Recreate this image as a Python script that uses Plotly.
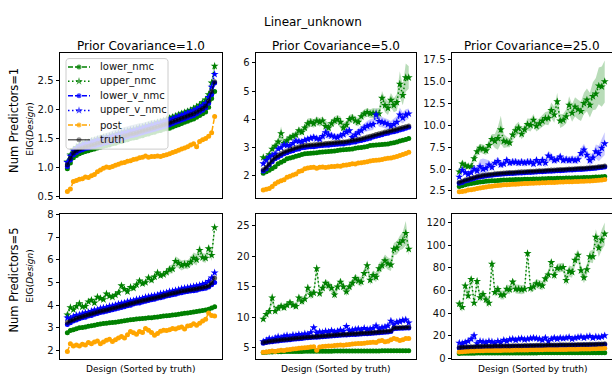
import numpy as np
import plotly.graph_objects as go

W, H = 612, 379
FONT = "DejaVu Sans"

# ---------------- Num Predictors=1, Prior Covariance=1.0 ----------------
lower_nmc_p1c1 = [0.97,1.07,1.16,1.20,1.23,1.25,1.27,1.28,1.30,1.31,
                  1.33,1.34,1.36,1.37,1.38,1.40,1.41,1.43,1.44,1.46,
                  1.47,1.49,1.50,1.51,1.53,1.54,1.56,1.57,1.59,1.60,
                  1.62,1.63,1.65,1.66,1.67,1.69,1.71,1.73,1.75,1.77,
                  1.79,1.81,1.83,1.86,1.89,1.92,1.95,2.03,2.18,2.30]
upper_nmc_p1c1 = [1.09,1.21,1.30,1.34,1.38,1.40,1.42,1.43,1.45,1.46,
                  1.48,1.49,1.51,1.52,1.53,1.55,1.56,1.58,1.59,1.61,
                  1.62,1.64,1.65,1.66,1.68,1.69,1.71,1.72,1.74,1.75,
                  1.77,1.78,1.80,1.82,1.84,1.86,1.88,1.90,1.92,1.94,
                  1.96,1.98,2.01,2.04,2.07,2.11,2.16,2.25,2.45,2.74]
lower_v_nmc_p1c1 = [1.01,1.12,1.21,1.25,1.28,1.30,1.32,1.33,1.35,1.36,
                    1.38,1.39,1.41,1.42,1.43,1.45,1.46,1.48,1.49,1.51,
                    1.52,1.54,1.55,1.56,1.58,1.59,1.61,1.62,1.64,1.65,
                    1.67,1.68,1.70,1.71,1.73,1.75,1.77,1.79,1.81,1.83,
                    1.85,1.87,1.89,1.92,1.95,1.98,2.02,2.10,2.25,2.45]
upper_v_nmc_p1c1 = [1.08,1.19,1.28,1.32,1.36,1.38,1.40,1.41,1.43,1.44,
                    1.46,1.47,1.49,1.50,1.51,1.53,1.54,1.56,1.57,1.59,
                    1.60,1.62,1.63,1.64,1.66,1.67,1.69,1.70,1.72,1.73,
                    1.75,1.76,1.78,1.79,1.81,1.83,1.85,1.87,1.89,1.91,
                    1.93,1.95,1.97,2.00,2.03,2.06,2.10,2.20,2.38,2.60]
post_p1c1 = [0.58,0.62,0.75,0.77,0.79,0.80,0.83,0.82,0.85,0.87,
             0.92,0.95,0.98,1.00,0.99,1.01,1.03,1.05,1.07,1.08,
             1.10,1.11,1.13,1.14,1.16,1.17,1.19,1.17,1.18,1.18,
             1.19,1.18,1.20,1.21,1.23,1.25,1.27,1.29,1.31,1.33,
             1.35,1.38,1.40,1.35,1.44,1.47,1.49,1.53,1.59,1.87]
truth_p1c1 = [1.04,1.15,1.24,1.28,1.31,1.33,1.35,1.36,1.38,1.39,
              1.41,1.42,1.44,1.45,1.46,1.48,1.49,1.51,1.52,1.54,
              1.55,1.57,1.58,1.59,1.61,1.62,1.64,1.65,1.67,1.68,
              1.70,1.71,1.73,1.74,1.76,1.78,1.80,1.82,1.84,1.86,
              1.88,1.90,1.92,1.95,1.98,2.01,2.05,2.14,2.30,2.47]
upper_nmc_sd_p1c1 = [0.03,0.03,0.04,0.04,0.04,0.05,0.05,0.05,0.06,0.06,
                     0.06,0.07,0.07,0.07,0.07,0.08,0.08,0.08,0.08,0.08,
                     0.08,0.08,0.08,0.08,0.08,0.07,0.07,0.07,0.07,0.06,
                     0.06,0.06,0.05,0.05,0.05,0.05,0.04,0.04,0.04,0.04,
                     0.04,0.04,0.04,0.04,0.05,0.05,0.05,0.06,0.07,0.09]
upper_v_nmc_sd_p1c1 = [0.03,0.03,0.04,0.04,0.05,0.05,0.06,0.06,0.07,0.07,
                       0.08,0.08,0.08,0.09,0.09,0.09,0.10,0.10,0.10,0.10,
                       0.10,0.10,0.10,0.10,0.09,0.09,0.09,0.08,0.08,0.08,
                       0.07,0.07,0.06,0.06,0.05,0.05,0.05,0.04,0.04,0.04,
                       0.04,0.04,0.04,0.04,0.04,0.05,0.05,0.05,0.06,0.08]
truth_sd_p1c1 = 0.02

# ---------------- Num Predictors=1, Prior Covariance=5.0 ----------------
lower_nmc_p1c5 = [2.09,2.14,2.20,2.26,2.32,2.43,2.48,2.53,2.60,2.63,
                  2.66,2.69,2.72,2.75,2.78,2.79,2.80,2.81,2.82,2.83,
                  2.84,2.85,2.86,2.87,2.88,2.90,2.91,2.92,2.93,2.94,
                  2.95,2.98,2.99,3.00,3.02,3.04,3.07,3.08,3.09,3.10,
                  3.11,3.12,3.13,3.15,3.17,3.20,3.23,3.26,3.29,3.32]
upper_nmc_p1c5 = [2.65,2.62,2.75,2.95,3.05,3.20,3.50,3.15,3.25,3.35,
                  3.40,3.45,3.60,3.55,3.70,3.85,3.90,3.85,3.95,3.90,
                  3.95,3.75,3.70,3.85,3.95,4.00,3.90,3.70,3.80,4.00,
                  4.05,3.95,3.90,4.10,4.20,4.25,4.20,4.22,4.20,4.20,
                  4.75,4.50,4.40,4.68,4.50,4.60,5.25,4.85,5.48,5.48]
lower_v_nmc_p1c5 = [2.17,2.25,2.38,2.50,2.60,2.66,2.72,2.78,2.82,2.86,
                    2.89,2.93,2.95,2.99,3.00,3.02,3.03,3.03,3.05,3.06,
                    3.07,3.08,3.08,3.10,3.11,3.12,3.13,3.13,3.15,3.16,
                    3.19,3.20,3.23,3.25,3.28,3.30,3.33,3.37,3.40,3.43,
                    3.45,3.49,3.51,3.54,3.56,3.59,3.62,3.65,3.68,3.72]
upper_v_nmc_p1c5 = [2.43,2.55,2.66,2.72,2.78,2.95,3.00,3.10,3.08,3.07,
                    3.15,3.24,3.22,3.20,3.26,3.30,3.33,3.36,3.32,3.30,
                    3.40,3.53,3.45,3.42,3.38,3.36,3.42,3.47,3.55,3.60,
                    3.36,3.45,3.53,3.60,3.70,3.76,3.80,3.82,4.16,3.93,
                    3.90,3.87,3.82,3.76,3.82,3.90,4.16,4.05,4.16,4.20]
post_p1c5 = [1.50,1.52,1.55,1.62,1.72,1.78,1.82,1.86,1.95,1.98,
             2.03,2.06,2.15,2.18,2.25,2.28,2.29,2.30,2.27,2.30,
             2.31,2.29,2.31,2.33,2.33,2.35,2.34,2.37,2.38,2.40,
             2.43,2.42,2.45,2.46,2.48,2.50,2.52,2.54,2.55,2.56,
             2.58,2.60,2.62,2.63,2.66,2.68,2.72,2.75,2.79,2.83]
truth_p1c5 = [2.21,2.30,2.42,2.55,2.65,2.72,2.78,2.84,2.88,2.92,
              2.96,2.99,3.02,3.05,3.07,3.08,3.09,3.10,3.11,3.12,
              3.13,3.14,3.15,3.16,3.17,3.18,3.19,3.20,3.21,3.23,
              3.25,3.27,3.29,3.31,3.34,3.37,3.40,3.43,3.46,3.49,
              3.52,3.55,3.57,3.60,3.62,3.65,3.68,3.71,3.74,3.76]
upper_nmc_sd_p1c5 = [0.08,0.08,0.10,0.12,0.12,0.15,0.25,0.15,0.12,0.12,
                     0.12,0.12,0.15,0.12,0.15,0.18,0.15,0.15,0.15,0.15,
                     0.15,0.20,0.18,0.15,0.15,0.15,0.20,0.18,0.15,0.15,
                     0.15,0.15,0.15,0.15,0.15,0.15,0.15,0.18,0.18,0.20,
                     0.25,0.25,0.25,0.25,0.25,0.30,0.45,0.35,0.50,0.40]
upper_v_nmc_sd_p1c5 = [0.05,0.05,0.06,0.06,0.06,0.07,0.08,0.08,0.08,0.08,
                       0.08,0.09,0.10,0.10,0.10,0.10,0.10,0.12,0.10,0.12,
                       0.15,0.18,0.15,0.12,0.12,0.12,0.12,0.12,0.15,0.15,
                       0.15,0.15,0.15,0.15,0.15,0.18,0.20,0.20,0.25,0.20,
                       0.18,0.18,0.18,0.18,0.20,0.22,0.25,0.20,0.20,0.18]
truth_sd_p1c5 = 0.04

# ---------------- Num Predictors=1, Prior Covariance=25.0 ----------------
lower_nmc_p1c25 = [3.00,3.10,3.20,3.30,3.35,3.42,3.48,3.52,3.56,3.60,
                   3.63,3.66,3.68,3.70,3.72,3.74,3.75,3.77,3.78,3.80,
                   3.81,3.82,3.83,3.84,3.85,3.86,3.87,3.88,3.89,3.90,
                   3.91,3.92,3.93,3.94,3.95,3.96,3.97,3.98,3.99,4.00,
                   4.01,4.02,4.03,4.04,4.05,4.06,4.08,4.10,4.12,4.15]
upper_nmc_p1c25 = [4.7,5.6,5.4,5.3,5.3,6.2,7.0,7.4,7.3,7.1,
                   7.7,8.4,8.2,8.5,9.5,8.2,8.1,8.0,8.9,9.4,
                   9.7,9.0,9.5,10.1,10.0,10.6,9.9,10.2,10.5,10.8,
                   10.8,11.7,11.2,12.7,10.5,10.6,11.0,12.3,11.4,12.1,
                   11.8,11.6,12.5,12.9,12.3,13.3,13.6,14.5,14.4,15.0]
lower_v_nmc_p1c25 = [3.38,3.48,3.63,3.73,3.83,3.93,4.03,4.10,4.16,4.21,
                     4.26,4.30,4.34,4.38,4.41,4.44,4.46,4.48,4.50,4.52,
                     4.54,4.56,4.58,4.60,4.62,4.64,4.66,4.68,4.70,4.72,
                     4.74,4.76,4.78,4.80,4.82,4.84,4.86,4.88,4.90,4.92,
                     4.94,4.96,4.98,5.01,5.04,5.07,5.10,5.14,5.18,5.23]
upper_v_nmc_p1c25 = [4.1,4.9,4.6,4.4,4.6,5.0,4.8,5.3,5.0,5.1,
                     5.5,5.2,5.7,5.9,5.5,5.6,6.0,5.7,5.8,5.8,
                     5.7,5.8,5.7,5.8,5.8,5.6,6.0,5.7,6.0,5.7,
                     6.5,6.3,6.0,6.1,6.4,6.0,6.1,6.0,6.1,6.0,
                     6.1,6.8,7.2,6.6,6.0,6.3,7.0,6.8,7.4,7.9]
post_p1c25 = [2.40,2.45,2.50,2.60,2.65,2.70,2.78,2.85,2.90,2.95,
              3.00,3.05,3.10,3.13,3.16,3.20,3.22,3.24,3.26,3.28,
              3.30,3.32,3.34,3.35,3.37,3.38,3.40,3.41,3.43,3.44,
              3.46,3.47,3.48,3.50,3.51,3.52,3.54,3.55,3.56,3.58,
              3.59,3.60,3.62,3.63,3.65,3.67,3.69,3.72,3.75,3.80]
truth_p1c25 = [3.50,3.60,3.75,3.85,3.95,4.05,4.15,4.22,4.28,4.33,
               4.38,4.42,4.46,4.50,4.53,4.56,4.58,4.60,4.62,4.64,
               4.66,4.68,4.70,4.72,4.74,4.76,4.78,4.80,4.82,4.84,
               4.86,4.88,4.90,4.92,4.94,4.96,4.98,5.00,5.02,5.04,
               5.06,5.08,5.10,5.13,5.16,5.19,5.22,5.26,5.30,5.35]
upper_nmc_sd_p1c25 = [0.3,0.4,0.4,0.3,0.3,0.4,0.5,0.5,0.5,0.5,
                      0.6,0.6,0.8,1.3,1.6,0.8,0.6,0.5,0.6,0.7,
                      0.7,0.6,0.6,0.7,0.7,0.7,0.6,0.6,0.7,0.7,
                      0.8,0.9,0.9,1.0,0.8,0.7,0.8,1.0,1.0,1.1,
                      1.1,1.1,1.2,1.3,1.4,1.6,1.8,2.1,2.3,2.4]
upper_v_nmc_sd_p1c25 = [0.2,0.3,0.3,0.3,0.3,0.4,0.5,0.8,1.2,1.0,
                        0.5,0.4,0.4,0.5,0.4,0.4,0.4,0.4,0.4,0.4,
                        0.4,0.4,0.4,0.4,0.4,0.4,0.4,0.4,0.5,0.5,
                        0.6,0.5,0.4,0.4,0.4,0.4,0.4,0.4,0.4,0.4,
                        0.5,0.6,0.7,0.6,0.6,0.6,0.8,0.9,1.1,1.3]
truth_sd_p1c25 = 0.08

# ---------------- Num Predictors=5, Prior Covariance=1.0 ----------------
lower_nmc_p5c1 = [2.79,2.88,2.92,2.96,3.00,3.02,3.04,3.07,3.09,3.12,
                  3.15,3.17,3.19,3.20,3.22,3.24,3.25,3.27,3.29,3.31,
                  3.33,3.36,3.37,3.39,3.40,3.41,3.42,3.44,3.45,3.47,
                  3.48,3.50,3.52,3.53,3.55,3.57,3.58,3.60,3.62,3.64,
                  3.66,3.68,3.70,3.72,3.74,3.76,3.79,3.82,3.87,3.93]
upper_nmc_p5c1 = [3.58,3.90,3.80,3.95,4.07,3.93,3.95,4.15,4.22,4.10,
                  4.36,4.30,4.25,4.50,4.40,4.36,4.45,4.55,4.86,4.70,
                  4.60,4.79,4.75,4.90,5.07,4.95,5.00,5.21,5.10,5.25,
                  5.43,5.30,5.35,5.45,5.57,5.60,5.93,5.85,5.75,5.80,
                  5.78,5.90,6.07,6.00,6.42,6.10,6.07,6.49,6.20,7.42]
lower_v_nmc_p5c1 = [3.15,3.22,3.30,3.35,3.40,3.45,3.47,3.52,3.55,3.60,
                    3.63,3.68,3.70,3.73,3.77,3.80,3.83,3.86,3.90,3.93,
                    3.97,4.00,4.05,4.08,4.10,4.14,4.17,4.20,4.24,4.26,
                    4.30,4.33,4.36,4.40,4.42,4.46,4.48,4.52,4.55,4.58,
                    4.60,4.62,4.64,4.66,4.70,4.72,4.75,4.80,4.90,5.00]
upper_v_nmc_p5c1 = [3.44,3.42,3.50,3.55,3.58,3.62,3.66,3.68,3.73,3.78,
                    3.80,3.85,3.88,3.90,3.95,3.97,4.00,4.05,4.08,4.10,
                    4.15,4.18,4.20,4.25,4.27,4.30,4.35,4.37,4.40,4.42,
                    4.45,4.50,4.52,4.55,4.60,4.62,4.65,4.68,4.72,4.75,
                    4.77,4.80,4.82,4.85,4.88,4.92,4.96,5.05,5.20,5.43]
post_p5c1 = [1.96,2.30,2.20,2.25,2.20,2.28,2.25,2.35,2.30,2.38,
             2.42,2.30,2.38,2.45,2.50,2.40,2.48,2.55,2.62,2.55,
             2.70,2.84,2.78,2.72,2.84,2.80,2.97,2.90,2.80,2.68,
             2.75,2.85,2.90,2.88,2.92,2.97,2.95,3.00,3.04,2.95,
             3.08,3.10,3.18,3.12,3.20,3.30,3.38,3.66,3.55,3.52]
truth_p5c1 = [3.24,3.30,3.36,3.42,3.46,3.50,3.54,3.58,3.62,3.66,
              3.70,3.73,3.76,3.79,3.82,3.86,3.89,3.93,3.96,4.00,
              4.03,4.07,4.10,4.14,4.17,4.20,4.23,4.26,4.29,4.32,
              4.35,4.38,4.42,4.45,4.49,4.52,4.55,4.58,4.62,4.64,
              4.66,4.68,4.70,4.72,4.75,4.78,4.81,4.85,4.98,5.20]
upper_nmc_sd_p5c1 = [0.08,0.08,0.08,0.08,0.08,0.08,0.08,0.08,0.10,0.10,
                     0.10,0.10,0.10,0.10,0.10,0.10,0.10,0.10,0.12,0.12,
                     0.12,0.12,0.12,0.12,0.12,0.12,0.12,0.12,0.12,0.12,
                     0.12,0.12,0.12,0.15,0.18,0.20,0.22,0.22,0.22,0.20,
                     0.20,0.22,0.25,0.25,0.25,0.20,0.20,0.22,0.25,0.30]
upper_v_nmc_sd_p5c1 = [0.06,0.06,0.06,0.06,0.06,0.06,0.06,0.06,0.06,0.06,
                       0.06,0.06,0.06,0.06,0.06,0.06,0.06,0.06,0.06,0.06,
                       0.06,0.06,0.06,0.06,0.06,0.06,0.06,0.06,0.06,0.06,
                       0.06,0.06,0.06,0.06,0.06,0.06,0.06,0.06,0.06,0.06,
                       0.06,0.07,0.07,0.07,0.08,0.08,0.09,0.10,0.10,0.12]
truth_sd_p5c1 = 0.07

# ---------------- Num Predictors=5, Prior Covariance=5.0 ----------------
lower_nmc_p5c5 = [4.20,4.25,4.28,4.30,4.32,4.33,4.35,4.36,4.37,4.38,
                  4.38,4.39,4.40,4.40,4.41,4.41,4.42,4.42,4.43,4.43,
                  4.43,4.44,4.44,4.44,4.45,4.45,4.45,4.45,4.46,4.46,
                  4.46,4.46,4.47,4.47,4.47,4.47,4.48,4.48,4.48,4.48,
                  4.49,4.49,4.49,4.50,4.50,4.50,4.50,4.50,4.51,4.51]
upper_nmc_p5c5 = [9.7,10.5,11.0,13.2,11.0,11.5,11.8,11.6,12.0,12.4,
                  12.0,11.8,13.2,12.6,13.0,14.8,13.7,14.0,18.0,13.9,
                  14.8,15.6,15.2,14.8,13.7,15.0,15.8,15.0,14.2,15.0,
                  15.6,16.4,16.0,15.8,17.2,18.5,16.1,16.9,16.6,18.0,
                  18.5,19.3,18.8,18.6,21.2,21.4,22.2,22.6,23.8,21.2]
lower_v_nmc_p5c5 = [5.75,5.85,5.92,6.00,6.06,6.12,6.18,6.22,6.28,6.33,
                    6.38,6.43,6.48,6.53,6.58,6.62,6.66,6.70,6.74,6.78,
                    6.82,6.86,6.90,6.94,6.98,7.01,7.04,7.07,7.10,7.13,
                    7.16,7.19,7.22,7.25,7.28,7.31,7.34,7.38,7.42,7.46,
                    7.50,7.54,7.58,7.66,8.12,8.16,8.18,8.20,8.22,8.24]
upper_v_nmc_p5c5 = [6.0,6.2,6.5,6.4,6.6,6.8,6.6,6.9,7.0,6.8,
                    7.1,7.0,7.2,7.1,7.3,7.2,7.5,8.3,7.4,7.6,
                    7.5,7.7,7.6,7.8,7.6,7.7,7.9,7.7,8.5,7.8,
                    7.9,8.0,8.1,7.9,8.2,8.0,8.1,8.2,8.6,8.1,
                    8.3,8.4,8.6,9.4,8.8,9.2,9.3,9.5,9.6,9.1]
post_p5c5 = [4.25,4.30,4.40,4.47,4.40,4.50,4.60,4.55,4.65,4.70,
             4.80,4.85,4.90,4.95,5.00,5.05,5.10,5.15,4.60,5.10,
             5.20,5.25,5.30,5.30,5.35,5.40,5.45,5.40,5.50,5.55,
             5.60,5.65,5.70,5.70,5.75,5.80,5.85,5.90,5.85,6.10,
             6.20,6.00,6.05,6.30,6.50,6.40,6.20,6.30,6.50,6.50]
truth_p5c5 = [5.85,5.95,6.05,6.12,6.18,6.24,6.30,6.35,6.40,6.45,
              6.50,6.55,6.60,6.65,6.70,6.74,6.78,6.82,6.86,6.90,
              6.94,6.98,7.02,7.06,7.10,7.13,7.16,7.19,7.22,7.25,
              7.28,7.31,7.34,7.37,7.40,7.43,7.46,7.50,7.54,7.58,
              7.62,7.66,7.70,7.78,8.25,8.28,8.30,8.32,8.34,8.36]
upper_nmc_sd_p5c5 = [0.5,0.5,0.6,0.9,0.6,0.5,0.5,0.5,0.5,0.5,
                     0.5,0.5,0.6,0.6,0.6,0.8,0.7,0.7,0.9,0.7,
                     0.7,0.7,0.7,0.7,0.7,0.7,0.7,0.7,0.7,0.7,
                     0.7,0.7,0.7,0.8,0.8,0.9,0.8,0.8,0.8,0.9,
                     0.9,1.0,1.0,1.0,1.0,1.1,1.2,1.4,2.0,1.0]
upper_v_nmc_sd_p5c5 = [0.2,0.2,0.2,0.2,0.2,0.2,0.2,0.2,0.2,0.2,
                       0.25,0.25,0.25,0.25,0.3,0.3,0.3,0.5,0.3,0.3,
                       0.3,0.3,0.3,0.3,0.3,0.3,0.3,0.3,0.5,0.3,
                       0.3,0.3,0.3,0.3,0.3,0.3,0.3,0.3,0.5,0.35,
                       0.35,0.4,0.4,0.6,0.4,0.4,0.4,0.4,0.4,0.4]
truth_sd_p5c5 = 0.1

# ---------------- Num Predictors=5, Prior Covariance=25.0 ----------------
lower_nmc_p5c25 = [4.2,4.3,4.3,4.4,4.4,4.4,4.5,4.5,4.5,4.5,
                   4.5,4.6,4.6,4.6,4.6,4.6,4.6,4.6,4.7,4.7,
                   4.7,4.7,4.7,4.7,4.7,4.7,4.7,4.8,4.8,4.8,
                   4.8,4.8,4.8,4.8,4.8,4.8,4.8,4.8,4.8,4.8,
                   4.9,4.9,4.9,4.9,4.9,4.9,4.9,4.9,4.9,4.9]
upper_nmc_p5c25 = [48.1,45.2,64.2,55.3,69.9,48.9,68.2,53.8,56.7,51.8,
                   48.9,83.5,58.4,61.0,56.1,56.1,61.3,60.7,67.6,61.3,
                   61.3,60.7,61.3,92.9,61.9,63.3,66.2,65.3,64.2,70.5,
                   74.0,84.9,73.4,79.7,80.0,80.6,69.1,77.2,76.3,86.9,
                   91.5,77.7,71.4,78.6,90.1,90.1,107.3,97.8,105.0,110.2]
lower_v_nmc_p5c25 = [9.0,9.2,9.3,9.4,9.5,9.6,9.7,9.8,9.9,9.9,
                     10.0,10.0,10.1,10.1,10.2,10.2,10.3,10.3,10.4,10.4,
                     10.5,10.5,10.6,10.6,10.7,10.7,10.8,10.8,10.9,10.9,
                     11.0,11.0,11.1,11.1,11.2,11.2,11.3,11.3,11.4,11.4,
                     11.5,11.5,11.6,11.6,11.7,11.7,11.8,11.9,12.0,12.2]
upper_v_nmc_p5c25 = [13.5,13.0,14.0,15.0,17.0,20.0,13.0,15.0,14.5,14.0,
                     15.0,14.5,13.5,15.0,14.0,16.0,15.0,16.5,17.0,16.0,
                     17.0,17.5,16.5,17.0,17.5,18.0,17.5,17.0,16.0,18.0,
                     15.0,17.0,18.0,17.0,18.0,17.5,18.0,18.5,17.0,18.0,
                     18.5,19.0,18.0,19.0,19.5,18.0,19.0,18.5,19.0,20.0]
post_p5c25 = [5.5,5.8,6.0,6.2,6.3,6.4,6.5,6.6,6.6,6.7,
              6.7,6.8,6.8,6.9,6.9,7.0,7.0,7.1,7.1,7.2,
              7.2,7.2,7.3,7.3,7.4,7.4,7.4,7.5,7.5,7.6,
              7.6,7.6,7.7,7.7,7.8,7.8,7.8,7.9,7.9,8.0,
              8.0,8.1,8.1,8.2,8.2,8.3,8.4,8.5,8.6,8.8]
truth_p5c25 = [9.5,9.7,9.9,10.0,10.1,10.2,10.3,10.4,10.5,10.5,
               10.6,10.6,10.7,10.7,10.8,10.8,10.9,10.9,11.0,11.0,
               11.1,11.1,11.2,11.2,11.3,11.3,11.4,11.4,11.5,11.5,
               11.6,11.6,11.7,11.7,11.8,11.8,11.9,11.9,12.0,12.0,
               12.1,12.1,12.2,12.2,12.3,12.3,12.4,12.5,12.6,12.8]
upper_nmc_sd_p5c25 = [4,4,4,4,4,4,4,4,4,4,
                      4,5,4,4,4,4,4,4,4,4,
                      4,4,4,4,4,4,4,4,4,4,
                      4,4,4,4,4,4,5,5,5,5,
                      5,5,5,5,5,6,7,8,9,10]
upper_v_nmc_sd_p5c25 = [1.5,1.5,2,2,3,4,2,1.5,1.5,1.5,
                        1.5,1.5,1.5,1.5,1.5,1.5,1.5,2,2,2,
                        2,2,2,2,2,2,2,2,2,2,
                        2,2,2,2,2,2,2,2,2,2,
                        2,2,2,2,2,2,2,2,2,2.5]
truth_sd_p5c25 = 0.4

col_titles = ["Prior Covariance=1.0", "Prior Covariance=5.0", "Prior Covariance=25.0"]
row_titles = ["Num Predictors=1", "Num Predictors=5"]
series_names = ["lower_nmc", "upper_nmc", "lower_v_nmc", "upper_v_nmc", "post", "truth"]

panels = [
    dict(vals=[lower_nmc_p1c1, upper_nmc_p1c1, lower_v_nmc_p1c1, upper_v_nmc_p1c1, post_p1c1, truth_p1c1],
         sd=dict(upper_nmc=upper_nmc_sd_p1c1, upper_v_nmc=upper_v_nmc_sd_p1c1), tsd=truth_sd_p1c1,
         yr=[0.47, 2.97], tv=[0.5, 1.0, 1.5, 2.0, 2.5], tt=["0.5", "1.0", "1.5", "2.0", "2.5"]),
    dict(vals=[lower_nmc_p1c5, upper_nmc_p1c5, lower_v_nmc_p1c5, upper_v_nmc_p1c5, post_p1c5, truth_p1c5],
         sd=dict(upper_nmc=upper_nmc_sd_p1c5, upper_v_nmc=upper_v_nmc_sd_p1c5), tsd=truth_sd_p1c5,
         yr=[1.22, 6.36], tv=[2, 3, 4, 5, 6], tt=["2", "3", "4", "5", "6"]),
    dict(vals=[lower_nmc_p1c25, upper_nmc_p1c25, lower_v_nmc_p1c25, upper_v_nmc_p1c25, post_p1c25, truth_p1c25],
         sd=dict(upper_nmc=upper_nmc_sd_p1c25, upper_v_nmc=upper_v_nmc_sd_p1c25), tsd=truth_sd_p1c25,
         yr=[1.72, 18.28], tv=[2.5, 5, 7.5, 10, 12.5, 15, 17.5],
         tt=["2.5", "5.0", "7.5", "10.0", "12.5", "15.0", "17.5"]),
    dict(vals=[lower_nmc_p5c1, upper_nmc_p5c1, lower_v_nmc_p5c1, upper_v_nmc_p5c1, post_p5c1, truth_p5c1],
         sd=dict(upper_nmc=upper_nmc_sd_p5c1, upper_v_nmc=upper_v_nmc_sd_p5c1), tsd=truth_sd_p5c1,
         yr=[1.61, 8.0], tv=[2, 3, 4, 5, 6, 7, 8], tt=["2", "3", "4", "5", "6", "7", "8"]),
    dict(vals=[lower_nmc_p5c5, upper_nmc_p5c5, lower_v_nmc_p5c5, upper_v_nmc_p5c5, post_p5c5, truth_p5c5],
         sd=dict(upper_nmc=upper_nmc_sd_p5c5, upper_v_nmc=upper_v_nmc_sd_p5c5), tsd=truth_sd_p5c5,
         yr=[3.08, 26.9], tv=[5, 10, 15, 20, 25], tt=["5", "10", "15", "20", "25"]),
    dict(vals=[lower_nmc_p5c25, upper_nmc_p5c25, lower_v_nmc_p5c25, upper_v_nmc_p5c25, post_p5c25, truth_p5c25],
         sd=dict(upper_nmc=upper_nmc_sd_p5c25, upper_v_nmc=upper_v_nmc_sd_p5c25), tsd=truth_sd_p5c25,
         yr=[-1.1, 127.5], tv=[0, 20, 40, 60, 80, 100, 120], tt=["0", "20", "40", "60", "80", "100", "120"]),
]

# ---------------- styles / layout geometry (pixels) ----------------
GREEN, BLUE, ORANGE = "#008000", "#0000ff", "#ffa500"
TRUTH_C = "rgba(0,0,0,0.6)"
DASHED, DOTTED = "5px,2px", "1.5px,2.5px"
style = {
    "lower_nmc":   dict(color=GREEN, dash=DASHED, symbol="circle", size=5),
    "upper_nmc":   dict(color=GREEN, dash=DOTTED, symbol="star", size=6),
    "lower_v_nmc": dict(color=BLUE, dash=DASHED, symbol="circle", size=5),
    "upper_v_nmc": dict(color=BLUE, dash=DOTTED, symbol="star", size=6),
    "post":        dict(color=ORANGE, dash=DASHED, symbol="circle", size=5),
    "truth":       dict(color=TRUTH_C, dash="solid", symbol="circle", size=5),
}
band_fill = {"upper_nmc": "rgba(0,128,0,0.28)", "upper_v_nmc": "rgba(0,0,255,0.22)",
             "truth": "rgba(0,0,0,0.18)"}

col_px = [(60, 222), (256, 416), (452, 612)]
row_px = [(48, 197), (214, 363)]

fig = go.Figure()
layout_axes = {}

for k, p in enumerate(panels):
    r, c = divmod(k, 3)
    n = k + 1
    xa, ya = ("x", "y") if n == 1 else (f"x{n}", f"y{n}")
    for name, v in zip(series_names, p["vals"]):
        xs = list(range(len(v)))
        st = style[name]
        if name in p["sd"] or name == "truth":
            if name == "truth":
                up = [a + p["tsd"] for a in v]
                lo = [a - p["tsd"] for a in v]
            else:
                up = [a + s for a, s in zip(v, p["sd"][name])]
                lo = [a - s for a, s in zip(v, p["sd"][name])]
            fig.add_trace(go.Scatter(x=xs + xs[::-1], y=up + lo[::-1], fill="toself",
                                     fillcolor=band_fill[name], line=dict(width=0), mode="lines",
                                     hoverinfo="skip", showlegend=False, xaxis=xa, yaxis=ya))
        fig.add_trace(go.Scatter(x=xs, y=v, mode="lines+markers", name=name,
                                 line=dict(color=st["color"], width=1.5, dash=st["dash"]),
                                 marker=dict(symbol=st["symbol"], size=st["size"], color=st["color"],
                                             line=dict(width=0)),
                                 showlegend=False, xaxis=xa, yaxis=ya))
    x0, x1 = col_px[c]
    y0, y1 = row_px[r]
    npts = len(p["vals"][0])
    pad = 0.05 * (npts - 1)
    layout_axes["xaxis" if n == 1 else f"xaxis{n}"] = dict(
        domain=[x0 / W, x1 / W], range=[-pad, npts - 1 + pad], anchor=ya,
        showticklabels=False, ticks="", showgrid=False, zeroline=False,
        showline=True, mirror=True, linecolor="#000", linewidth=1)
    layout_axes["yaxis" if n == 1 else f"yaxis{n}"] = dict(
        domain=[1 - y1 / H, 1 - y0 / H], range=p["yr"], anchor=xa,
        tickvals=p["tv"], ticktext=p["tt"], ticks="outside", ticklen=3.5, tickwidth=1,
        tickcolor="#000", tickfont=dict(size=10, color="#111"),
        showgrid=False, zeroline=False, showline=True, mirror=(c < 2),
        linecolor="#000", linewidth=1)

# ---------------- legend drawn in an overlay of the first panel ----------------
lx0, lx1 = col_px[0]
ly0, ly1 = row_px[0]
def fx(px):
    return (px - lx0) / (lx1 - lx0)
def fy(py):
    return (ly1 - py) / (ly1 - ly0)

bx0, bx1, by0, by1, rad = 66, 168, 54, 147, 3
pts = []
for cx, cy, a0 in [(bx1 - rad, by0 + rad, -90), (bx1 - rad, by1 - rad, 0),
                   (bx0 + rad, by1 - rad, 90), (bx0 + rad, by0 + rad, 180)]:
    for a in np.linspace(a0, a0 + 90, 6):
        pts.append((cx + rad * np.cos(np.radians(a)), cy + rad * np.sin(np.radians(a))))
pts.append(pts[0])
fig.add_trace(go.Scatter(x=[fx(q[0]) for q in pts], y=[fy(q[1]) for q in pts], mode="lines",
                         fill="toself", fillcolor="rgba(255,255,255,0.8)",
                         line=dict(color="#cccccc", width=1), hoverinfo="skip",
                         showlegend=False, xaxis="x7", yaxis="y7"))
row_y = [62.7, 77.3, 92.3, 107.3, 122.3, 137.3]
annotations = []
for name, yy in zip(series_names, row_y):
    st = style[name]
    fig.add_trace(go.Scatter(x=[fx(68), fx(79), fx(90)], y=[fy(yy)] * 3, mode="lines+markers",
                             line=dict(color=st["color"], width=1.5, dash=st["dash"]),
                             marker=dict(symbol=st["symbol"], size=[0, st["size"], 0], color=st["color"],
                                         line=dict(width=0)),
                             hoverinfo="skip", showlegend=False, xaxis="x7", yaxis="y7"))
    annotations.append(dict(text=name, x=98 / W, y=1 - yy / H, xref="paper", yref="paper",
                            xanchor="left", yanchor="middle", showarrow=False,
                            font=dict(size=10, color="#111")))

layout_axes["xaxis7"] = dict(domain=[lx0 / W, lx1 / W], range=[0, 1], overlaying="x",
                             anchor="y7", visible=False)
layout_axes["yaxis7"] = dict(domain=[1 - ly1 / H, 1 - ly0 / H], range=[0, 1], overlaying="y",
                             anchor="x7", visible=False)

# ---------------- titles and labels ----------------
annotations.append(dict(text="Linear_unknown", x=313 / W, y=1 - 16 / H, xref="paper", yref="paper",
                        xanchor="center", yanchor="middle", showarrow=False, font=dict(size=12)))
for c, t in enumerate(col_titles):
    x0, x1 = col_px[c]
    annotations.append(dict(text=t, x=(x0 + x1) / 2 / W, y=1 - 41 / H, xref="paper", yref="paper",
                            xanchor="center", yanchor="middle", showarrow=False, font=dict(size=12)))
for r, (t, ty, ey) in enumerate(zip(row_titles, [118, 282], [127, 278])):
    annotations.append(dict(text=t, x=14 / W, y=1 - ty / H, xref="paper", yref="paper",
                            xanchor="center", yanchor="middle", textangle=-90, showarrow=False,
                            font=dict(size=11.5)))
    annotations.append(dict(text="EIG(<i>Design</i>)", x=30 / W, y=1 - ey / H, xref="paper",
                            yref="paper", xanchor="center", yanchor="middle", textangle=-90,
                            showarrow=False, font=dict(size=9)))
for cx in [141, 336, 533]:
    annotations.append(dict(text="Design (Sorted by truth)", x=cx / W, y=1 - 372.5 / H,
                            xref="paper", yref="paper", xanchor="center", yanchor="middle",
                            showarrow=False, font=dict(size=9)))

fig.update_layout(width=W, height=H, margin=dict(l=0, r=0, t=0, b=0),
                  paper_bgcolor="white", plot_bgcolor="white", showlegend=False,
                  font=dict(family=FONT, color="#000"), annotations=annotations,
                  **layout_axes)

fig.write_html("out.html")
